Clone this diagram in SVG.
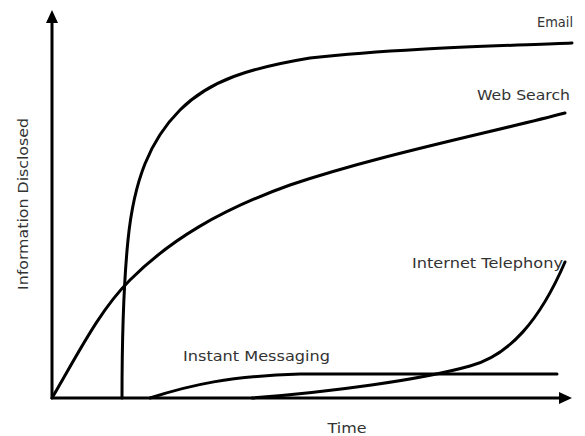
<svg xmlns="http://www.w3.org/2000/svg" width="585" height="436" viewBox="0 0 585 436">
<style>
.ax{stroke:#000;stroke-width:3;fill:none}
.cv{stroke:#000;stroke-width:3;fill:none;stroke-linecap:round}
text{font-family:"DejaVu Sans","Liberation Sans",sans-serif;font-size:14px;fill:#333}
</style>
<rect width="585" height="436" fill="#fff"/>
<g id="axes">
<line class="ax" x1="52" y1="399" x2="52" y2="20"/>
<polygon points="52,10 46,23 58,23" fill="#000"/>
<line class="ax" x1="51" y1="398" x2="561" y2="398"/>
<polygon points="572,398 559,392 559,404" fill="#000"/>
<text x="347" y="433" text-anchor="middle" textLength="39" lengthAdjust="spacingAndGlyphs">Time</text>
<text transform="translate(28,204) rotate(-90)" text-anchor="middle" textLength="172" lengthAdjust="spacingAndGlyphs">Information Disclosed</text>
</g>
<g id="connectors">
<path id="email" class="cv" d="M122,398 C122,340 124,280 128,240 C134,180 150,140 180,110 C210,80 250,68 310,58 C400,48 500,46 572,43"/>
<path id="websearch" class="cv" d="M52,398 C80,350 100,310 130,280 C170,240 220,210 290,185 C380,155 480,135 565,113"/>
<path id="im" class="cv" d="M150,398 C190,385 230,376 300,374 L557,374"/>
<path id="tel" class="cv" d="M252,398 C330,392 420,380 470,366 C510,355 540,320 565,262"/>
</g>
<g id="label-email"><text x="537" y="27" textLength="36" lengthAdjust="spacingAndGlyphs">Email</text></g>
<g id="label-websearch"><text x="477" y="100" textLength="93" lengthAdjust="spacingAndGlyphs">Web Search</text></g>
<g id="label-tel"><text x="412" y="268" textLength="151" lengthAdjust="spacingAndGlyphs">Internet Telephony</text></g>
<g id="label-im"><text x="183" y="361" textLength="147" lengthAdjust="spacingAndGlyphs">Instant Messaging</text></g>
</svg>
